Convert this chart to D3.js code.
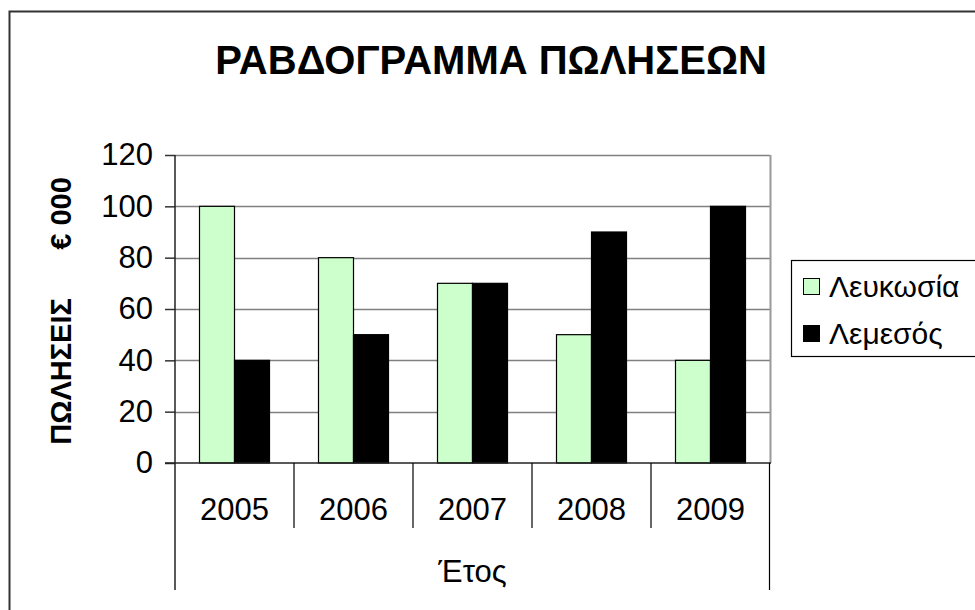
<!DOCTYPE html>
<html>
<head>
<meta charset="utf-8">
<script src="https://cdn.jsdelivr.net/npm/d3@7"></script>
<style>
  body { margin: 0; background: #fff; }
  svg { display: block; font-family: "Liberation Sans", Arial, sans-serif; }
</style>
</head>
<body>
<svg id="chart" width="975" height="610"></svg>
<script>
const years = ["2005", "2006", "2007", "2008", "2009"];
const seriesNames = ["Λευκωσία", "Λεμεσός"];
const lefkosia = [100, 80, 70, 50, 40];
const lemesos = [40, 50, 70, 90, 100];
const yTicks = [0, 20, 40, 60, 80, 100, 120];
const colors = ["#CCFFCC", "#000000"];
const titleText = "ΡΑΒΔΟΓΡΑΜΜΑ ΠΩΛΗΣΕΩΝ";
const yLabel = "ΠΩΛΗΣΕΙΣ      € 000";
const xLabel = "Έτος";

const svg = d3.select("#chart");
const plot = { left: 175, right: 770, top: 155, bottom: 463 };

// outer chart frame (extends past the window on right/bottom)
svg.append("rect")
  .attr("x", 9.5).attr("y", 11.5)
  .attr("width", 1000).attr("height", 700)
  .attr("fill", "#fff").attr("stroke", "#333").attr("stroke-width", 2);

// title
svg.append("text")
  .attr("x", 491).attr("y", 74)
  .attr("text-anchor", "middle")
  .attr("font-size", 40).attr("font-weight", "bold")
  .text(titleText);

const x = d3.scaleBand().domain(years).range([plot.left, plot.right]).padding(0);
const xs = d3.scaleBand().domain(seriesNames).range([0, x.bandwidth()]).paddingInner(0).paddingOuter(0.7);
const y = d3.scaleLinear().domain([0, 120]).range([plot.bottom, plot.top]);

// gridlines
svg.append("g").selectAll("line").data(yTicks.filter(d => d > 0)).join("line")
  .attr("x1", plot.left).attr("x2", plot.right)
  .attr("y1", d => Math.round(y(d)) + 0.5).attr("y2", d => Math.round(y(d)) + 0.5)
  .attr("stroke", "#808080").attr("stroke-width", 1.5);

// plot area right border
svg.append("line")
  .attr("x1", plot.right + 0.5).attr("x2", plot.right + 0.5)
  .attr("y1", plot.top).attr("y2", plot.bottom)
  .attr("stroke", "#999").attr("stroke-width", 2);

// bars
const data = years.map((yr, i) => ({ year: yr, values: [lefkosia[i], lemesos[i]] }));
const groups = svg.append("g").selectAll("g").data(data).join("g")
  .attr("transform", d => `translate(${x(d.year)},0)`);
groups.selectAll("rect").data(d => d.values.map((v, j) => ({ name: seriesNames[j], v, j }))).join("rect")
  .attr("x", d => xs(d.name))
  .attr("width", xs.bandwidth())
  .attr("y", d => y(d.v))
  .attr("height", d => y(0) - y(d.v))
  .attr("fill", d => colors[d.j])
  .attr("stroke", "#000").attr("stroke-width", 1.2);

// y axis
const yAxis = d3.axisLeft(y).tickValues(yTicks).tickSize(10).tickPadding(12).tickFormat(d3.format("d"));
const yg = svg.append("g").attr("transform", `translate(${plot.left},0)`).call(yAxis);
yg.select(".domain").remove();
yg.selectAll(".tick line").attr("stroke", "#333").attr("stroke-width", 1.5);
yg.selectAll(".tick text").attr("font-size", 31).attr("fill", "#000")
  .attr("font-family", "Liberation Sans, Arial, sans-serif");
// y axis line extending down through the category labels
svg.append("line")
  .attr("x1", plot.left).attr("x2", plot.left)
  .attr("y1", plot.top).attr("y2", 590)
  .attr("stroke", "#222").attr("stroke-width", 1.5);
// x baseline
svg.append("line")
  .attr("x1", plot.left - 10).attr("x2", plot.right + 1)
  .attr("y1", plot.bottom).attr("y2", plot.bottom)
  .attr("stroke", "#222").attr("stroke-width", 1.5);

// category dividers
svg.append("g").selectAll("line").data(years.slice(1)).join("line")
  .attr("x1", d => x(d)).attr("x2", d => x(d))
  .attr("y1", plot.bottom).attr("y2", 528)
  .attr("stroke", "#000").attr("stroke-width", 1.2);
svg.append("line")
  .attr("x1", plot.right - 0.5).attr("x2", plot.right - 0.5)
  .attr("y1", plot.bottom).attr("y2", 590)
  .attr("stroke", "#000").attr("stroke-width", 1.2);

// category labels
svg.append("g").selectAll("text").data(years).join("text")
  .attr("x", d => x(d) + x.bandwidth() / 2)
  .attr("y", 520)
  .attr("text-anchor", "middle")
  .attr("font-size", 31)
  .text(d => d);

// x axis title
svg.append("text")
  .attr("x", (plot.left + plot.right) / 2).attr("y", 582)
  .attr("text-anchor", "middle")
  .attr("font-size", 31)
  .text(xLabel);

// y axis title
svg.append("text")
  .attr("transform", "translate(71,311) rotate(-90)")
  .attr("text-anchor", "middle")
  .attr("font-size", 29).attr("font-weight", "bold")
  .style("white-space", "pre")
  .text(yLabel);

// legend
const lg = svg.append("g");
lg.append("rect")
  .attr("x", 791.5).attr("y", 260.5).attr("width", 300).attr("height", 96)
  .attr("fill", "#fff").attr("stroke", "#000").attr("stroke-width", 1.2);
const items = lg.selectAll("g").data(seriesNames).join("g")
  .attr("transform", (d, i) => `translate(0,${287 + i * 47})`);
items.append("rect")
  .attr("x", 803.5).attr("y", -8.5).attr("width", 16).attr("height", 16)
  .attr("fill", (d, i) => colors[i]).attr("stroke", "#000").attr("stroke-width", 1);
items.append("text")
  .attr("x", 829).attr("y", 10)
  .attr("font-size", 30)
  .text(d => d);
</script>
</body>
</html>
